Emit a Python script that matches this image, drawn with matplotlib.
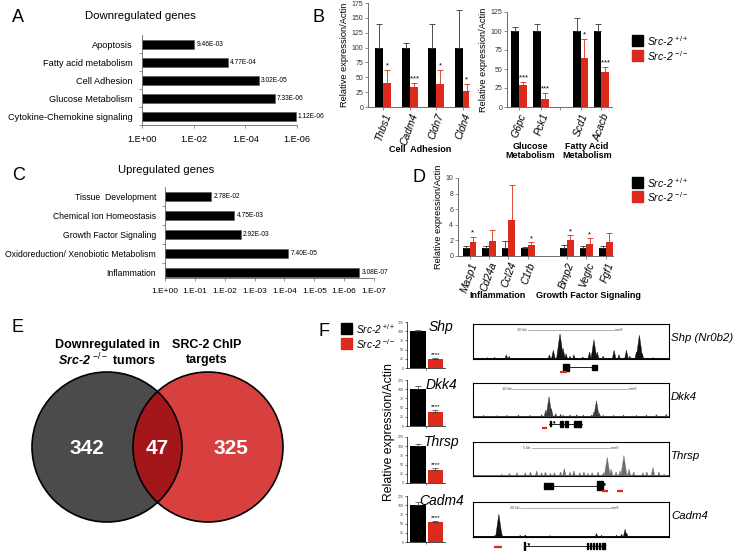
import numpy as np
import matplotlib
matplotlib.use("Agg")
import matplotlib.pyplot as plt
from matplotlib.patches import Rectangle, Circle

plt.rcParams['font.family'] = ['Liberation Sans', 'DejaVu Sans']
plt.rcParams['mathtext.fontset'] = 'custom'
plt.rcParams['mathtext.rm'] = 'Liberation Sans'
plt.rcParams['mathtext.it'] = 'Liberation Sans:italic'
plt.rcParams['mathtext.bf'] = 'Liberation Sans:bold'
plt.rcParams['mathtext.bfit'] = 'Liberation Sans:italic:bold'

W, H = 734, 551
BLACK = '#000000'
RED = '#dc2a1c'

# ---- data ----
# A: downregulated gene ontology
down_terms = ['Cytokine-Chemokine signaling', 'Glucose Metabolism', 'Cell Adhesion',
              'Fatty acid metabolism', 'Apoptosis']
down_pvals = [1.12e-06, 7.33e-06, 3.02e-05, 4.77e-04, 9.46e-03]
down_plabels = ['1.12E-06', '7.33E-06', '3.02E-05', '4.77E-04', '9.46E-03']

# C: upregulated gene ontology
up_terms = ['Inflammation', 'Oxidoreduction/ Xenobiotic Metabolism', 'Growth Factor Signaling',
            'Chemical Ion Homeostasis', 'Tissue  Development']
up_pvals = [3.08e-07, 7.40e-05, 2.92e-03, 4.75e-03, 2.78e-02]
up_plabels = ['3.08E-07', '7.40E-05', '2.92E-03', '4.75E-03', '2.78E-02']

# B left: cell adhesion qPCR
adh_genes = ['Thbs1', 'Cadm4', 'Cldn7', 'Cldn4']
adh_wt = [100, 100, 100, 100]
adh_wt_err = [39, 8, 39, 63]
adh_ko = [41, 33, 38, 27]
adh_ko_err = [22, 7, 25, 12]
adh_sig = ['*', '****', '*', '*']

# B right: glucose / fatty acid metabolism qPCR
met_genes = ['G6pc', 'Pck1', 'Scd1', 'Acacb']
met_wt = [100, 100, 100, 100]
met_wt_err = [5, 9, 17, 9]
met_ko = [29, 11, 64, 46]
met_ko_err = [4, 7, 26, 7]
met_sig = ['****', '***', '*', '****']

# D: inflammation / growth factor qPCR
up_genes = ['Masp1', 'Cd24a', 'Ccl24', 'C1rb', 'Bmp2', 'Vegfc', 'Fgf1']
up_wt = [1, 1, 1, 1, 1, 1, 1]
up_wt_err = [0.25, 0.3, 0.9, 0.1, 0.35, 0.3, 0.3]
up_ko = [1.8, 1.9, 4.6, 1.4, 2.0, 1.6, 1.8]
up_ko_err = [0.6, 1.4, 4.5, 0.35, 0.65, 0.65, 1.1]
up_sig = ['*', '', '', '*', '*', '*', '']

# E: Venn counts
venn_counts = [342, 47, 325]

# F: ChIP target qPCR
chip_genes = ['Shp', 'Dkk4', 'Thrsp', 'Cadm4']
chip_wt = [100, 100, 100, 100]
chip_wt_err = [2, 10, 5, 9]
chip_ko = [25, 38, 36, 53]
chip_ko_err = [2, 6, 6, 4]

# F: ChIP-seq tracks (peak position 0-100 along window, peak height 0-1)
track_names = ['Shp (Nr0b2)', 'Dkk4', 'Thrsp', 'Cadm4']
track_scale = ['10 kb', '10 kb', '5 kb', '20 kb']
shp_pos = [7.5, 11, 17, 18.5, 39, 41, 44.4, 46, 47.5, 49.5, 51.5, 56, 59.5, 61.7, 63.4,
           66.4, 72, 74.5, 78.3, 80, 83.4, 84.9, 86.4, 91.9, 97]
shp_h = [0.04, 0.05, 0.12, 0.08, 0.12, 0.25, 0.72, 0.3, 0.15, 0.08, 0.12, 0.06, 0.2, 0.55,
         0.2, 0.08, 0.25, 0.12, 0.25, 0.08, 0.2, 0.68, 0.15, 0.04, 0.03]
dkk_pos = [5.4, 12.2, 17.3, 23.2, 29.1, 35, 37.1, 38.8, 40, 42.2, 44.7, 46, 49.5, 52.9,
           56.3, 60.5, 61.7, 63, 64.4, 66.4, 71.7, 76.8, 83.4, 88.5, 93.6, 98.6]
dkk_h = [0.05, 0.04, 0.05, 0.06, 0.05, 0.07, 0.2, 0.6, 0.25, 0.1, 0.08, 0.05, 0.06, 0.07,
         0.06, 0.06, 0.15, 0.48, 0.12, 0.05, 0.05, 0.06, 0.05, 0.06, 0.07, 0.08]
thr_pos = [8.8, 14.6, 18.6, 22.5, 26.7, 29.3, 32.5, 35, 37, 39.5, 41.5, 44.7, 46.6, 49.5,
           51.5, 54.5, 56.6, 58.6, 60.8, 63.8, 66.6, 68.5, 70.5, 73, 75, 77, 79.6, 82,
           86.7, 88.7, 91.8, 94.9, 97.5]
thr_h = [0.03, 0.06, 0.08, 0.1, 0.1, 0.12, 0.15, 0.1, 0.12, 0.08, 0.1, 0.12, 0.22, 0.12,
         0.15, 0.1, 0.12, 0.08, 0.1, 0.12, 0.1, 0.55, 0.2, 0.12, 0.15, 0.6, 0.2, 0.12,
         0.1, 0.12, 0.25, 0.12, 0.06]
cad_pos = [11.3, 12.5, 13.2, 14.5, 24.1, 26.6, 39.3, 49.5, 63, 65.6, 73.2, 75.8, 77.6,
           78.4, 83.4, 90.2, 95]
cad_h = [0.05, 0.15, 0.65, 0.12, 0.05, 0.06, 0.04, 0.03, 0.1, 0.05, 0.05, 0.08, 0.22,
         0.12, 0.03, 0.03, 0.03]
track_pos = [shp_pos, dkk_pos, thr_pos, cad_pos]
track_h = [shp_h, dkk_h, thr_h, cad_h]
track_col = ['#111111', '#3a3a3a', '#6e6e6e', '#111111']

# gene models (window coords 0-100): exons, intron line, primer (red) bars
gene_exons = [[(45.9, 49.0, 1.0), (60.7, 63.3, 0.7)],
              [(39.3, 40.0, 0.7), (44.4, 45.9, 0.8), (46.9, 48.5, 0.8), (51.5, 55.1, 0.8)],
              [(36.2, 40.8, 0.8), (63.3, 66.3, 1.3)],
              [(26.0, 26.6, 1.2), (58.2, 58.8, 0.9), (59.7, 60.3, 0.9), (61.2, 61.8, 0.9),
               (62.7, 63.3, 0.9), (64.2, 65.0, 0.9), (66.0, 67.3, 0.8)]]
gene_span = [(49.0, 62.0), (38.8, 55.6), (40.8, 63.3), (26.0, 67.3)]
gene_tss = [46.5, 39.3, 65.0, 26.3]
primer_bars = [[(44.4, 48.0)], [(35.2, 37.8)], [(65.8, 68.9), (73.5, 76.5)], [(10.7, 14.8)]]


def px_axes(x0, y0, x1, y1):
    return fig.add_axes([x0 / W, 1 - y1 / H, (x1 - x0) / W, (y1 - y0) / H])


def ftext(x, y, s, **kw):
    fig.text(x / W, 1 - y / H, s, **kw)


def legend(x, y, dy, size=7.5):
    for i, (c, sup) in enumerate([(BLACK, '+/+'), (RED, '-/-')]):
        fig.patches.append(Rectangle((x / W, 1 - (y + i * dy + 11) / H), 11 / W, 11 / H,
                                     transform=fig.transFigure, color=c))
        ftext(x + 15, y + i * dy + 6, 'Src-2 $^{%s}$' % sup, fontsize=size, style='italic',
              va='center')


def go_panel(ax, terms, pvals, plabels, nmax, tick_fs, lab_fs):
    vals = -np.log10(pvals)
    y = np.arange(len(terms))
    ax.barh(y, vals, height=0.5, color=BLACK, edgecolor='#555555', linewidth=0.4)
    for yi, v, lab in zip(y, vals, plabels):
        ax.text(v + 0.08, yi, lab, fontsize=4.8, va='center')
    ax.set_yticks(y)
    ax.set_yticklabels(terms, fontsize=lab_fs)
    ax.set_yticks(np.arange(len(terms)) - 0.5, minor=True)
    ax.set_xlim(0, nmax)
    step = 2 if nmax == 6 else 1
    ks = list(range(0, nmax + 1, step))
    ax.set_xticks(ks)
    ax.set_xticklabels(['1.E+00' if k == 0 else '1.E-%02d' % k for k in ks], fontsize=tick_fs)
    for s in ['top', 'right']:
        ax.spines[s].set_visible(False)
    for s in ['left', 'bottom']:
        ax.spines[s].set_linewidth(0.6)
        ax.spines[s].set_color('#666666')
    ax.tick_params(axis='y', which='major', length=0, pad=6.5)
    ax.tick_params(axis='y', which='minor', length=2, width=0.5, color='#666666')
    ax.tick_params(axis='x', length=2.5, width=0.5, color='#666666', pad=5)


def qpcr(ax, pos, wt, wte, ko, koe, sig, genes, ymax, ystep, width, extra_ticks=()):
    pos = np.asarray(pos, dtype=float)
    ax.bar(pos - width / 2, wt, width, color=BLACK)
    ax.bar(pos + width / 2, ko, width, color=RED)
    ax.errorbar(pos - width / 2, wt, yerr=[np.zeros(len(wt)), wte], fmt='none',
                ecolor='#333333', elinewidth=0.6, capsize=2, capthick=0.6)
    ax.errorbar(pos + width / 2, ko, yerr=[np.zeros(len(ko)), koe], fmt='none',
                ecolor=RED, elinewidth=0.6, capsize=2, capthick=0.6)
    for p, k, e, s in zip(pos, ko, koe, sig):
        if s:
            ax.text(p + width / 2, k + e + ymax * 0.005, s, ha='center', va='bottom',
                    fontsize=5.5)
    ax.set_ylim(0, ymax)
    ax.set_yticks(np.arange(0, ymax + 0.01, ystep))
    ax.tick_params(axis='y', labelsize=5, length=2, width=0.5, color='#666666',
                   labelcolor='#333333', pad=1.5)
    ax.set_xticks(list(pos) + list(extra_ticks))
    ax.set_xticklabels(genes + [''] * len(extra_ticks), rotation=70, ha='right',
                       va='top', rotation_mode='anchor', style='italic', fontsize=7.5)
    ax.tick_params(axis='x', length=2, width=0.5, color='#666666', pad=1.5)
    for s in ['top', 'right']:
        ax.spines[s].set_visible(False)
    for s in ['left', 'bottom']:
        ax.spines[s].set_linewidth(0.6)
        ax.spines[s].set_color('#555555')


fig = plt.figure(figsize=(W / 100, H / 100), dpi=100)

# ---------- A ----------
ftext(12, 18, 'A', fontsize=13, va='center')
ftext(140, 16, 'Downregulated genes', fontsize=8.2, ha='center', va='center')
axA = px_axes(142, 35, 297, 125)
go_panel(axA, down_terms, down_pvals, down_plabels, 6, 6.6, 6.6)
axA.set_ylim(-0.5, 4.5)

# ---------- C ----------
ftext(12, 175, 'C', fontsize=13, va='center')
ftext(166, 170, 'Upregulated genes', fontsize=8.2, ha='center', va='center')
axC = px_axes(165, 187, 374, 278)
go_panel(axC, up_terms, up_pvals, up_plabels, 7, 6, 6.2)
axC.set_ylim(-0.3, 4.5)

# ---------- B ----------
ftext(313, 17, 'B', fontsize=13, va='center')
axB1 = px_axes(368, 3, 469, 107)
qpcr(axB1, [0, 1, 2, 3], adh_wt, adh_wt_err, adh_ko, adh_ko_err, adh_sig, adh_genes,
     175, 25, 0.3)
axB1.set_xlim(-0.58, 3.23)
axB1.set_ylabel('Relative expression/Actin', fontsize=6.7, labelpad=2)
ftext(420, 149, 'Cell  Adhesion', fontsize=6.5, weight='bold', ha='center', va='center')

axB2 = px_axes(507, 12, 612, 107)
qpcr(axB2, [0, 1, 2.8, 3.75], met_wt, met_wt_err, met_ko, met_ko_err, met_sig, met_genes,
     125, 25, 0.35, extra_ticks=[1.86])
axB2.set_xlim(-0.55, 4.23)
axB2.set_ylabel('Relative expression/Actin', fontsize=6.7, labelpad=2)
ftext(530, 151, 'Glucose\nMetabolism', fontsize=6.5, weight='bold', ha='center',
      va='center', linespacing=1.0)
ftext(587, 151, 'Fatty Acid\nMetabolism', fontsize=6.5, weight='bold', ha='center',
      va='center', linespacing=1.0)
legend(632, 35, 15)

# ---------- D ----------
ftext(412, 178, 'D', fontsize=13, va='center')
axD = px_axes(458, 178, 613, 256)
qpcr(axD, [0, 1, 2, 3, 5, 6, 7], up_wt, up_wt_err, up_ko, up_ko_err, up_sig, up_genes,
     10, 2, 0.34)
axD.set_xlim(-0.59, 7.36)
axD.set_ylabel('Relative expression/Actin', fontsize=6.7, labelpad=2)
ftext(498, 295, 'Inflammation', fontsize=6.5, weight='bold', ha='center', va='center')
ftext(588, 295, 'Growth Factor Signaling', fontsize=6.5, weight='bold', ha='center',
      va='center')
legend(632, 177, 14)

# ---------- E ----------
ftext(12, 327, 'E', fontsize=13, va='center')
axE = px_axes(20, 366, 300, 528)
axE.set_xlim(20, 300)
axE.set_ylim(-528, -366)
axE.set_aspect('equal')
axE.axis('off')
left = Circle((107, -447), 75, facecolor='#4b4b4b', edgecolor='none')
right = Circle((208, -447), 75, facecolor='#d7403f', edgecolor='none')
axE.add_patch(left)
axE.add_patch(right)
over = Circle((208, -447), 75, facecolor='#a3161a', edgecolor='none')
axE.add_patch(over)
over.set_clip_path(left)
for cx in (107, 208):
    axE.add_patch(Circle((cx, -447), 75, facecolor='none', edgecolor='black', linewidth=1.2))
for cx, n in zip((87, 157, 231), venn_counts):
    axE.text(cx, -448, str(n), color='white', fontsize=15, weight='bold', ha='center',
             va='center')
ftext(107, 345, 'Downregulated in', fontsize=9, weight='bold', ha='center', va='center')
ftext(107, 360, r'$\mathbfit{Src}$-$\mathbfit{2}$ $^{-/-}$ tumors', fontsize=9,
      weight='bold', ha='center', va='center')
ftext(207, 345, 'SRC-2 ChIP', fontsize=9, weight='bold', ha='center', va='center')
ftext(207, 360, 'targets', fontsize=9, weight='bold', ha='center', va='center')

# ---------- F ----------
ftext(318, 331, 'F', fontsize=13, va='center')
legend(341, 323, 15, size=7.2)
ftext(389, 432, 'Relative expression/Actin', fontsize=8.8, rotation=90, ha='center',
      va='center')
bar_tops = [322, 380, 437, 496]
for i, g in enumerate(chip_genes):
    ax = px_axes(407, bar_tops[i], 445, bar_tops[i] + 46)
    ax.bar([0], [chip_wt[i]], 0.9, color=BLACK)
    ax.bar([1], [chip_ko[i]], 0.85, color=RED)
    ax.errorbar([0], [chip_wt[i]], yerr=[[0], [chip_wt_err[i]]], fmt='none', ecolor='#333333',
                elinewidth=0.5, capsize=2, capthick=0.5)
    ax.errorbar([1], [chip_ko[i]], yerr=[[0], [chip_ko_err[i]]], fmt='none', ecolor='#333333',
                elinewidth=0.5, capsize=2, capthick=0.5)
    ax.text(1, chip_ko[i] + chip_ko_err[i] + 2, '****', ha='center', va='bottom', fontsize=4.5)
    ax.set_xlim(-0.6, 1.55)
    ax.set_ylim(0, 125)
    ax.set_yticks([0, 25, 50, 75, 100, 125])
    ax.tick_params(axis='y', labelsize=2.6, length=1.5, width=0.4, pad=1, labelcolor='#444444')
    ax.set_xticks([0.5])
    ax.set_xticklabels([])
    ax.tick_params(axis='x', length=1.5, width=0.4)
    for s in ['top', 'right']:
        ax.spines[s].set_visible(False)
    for s in ['left', 'bottom']:
        ax.spines[s].set_linewidth(0.5)
    ax.text(1.35, 112, g, style='italic', fontsize=10, ha='center', va='center')

track_boxes = [(324, 359), (383, 417), (442, 476), (502, 537)]
scale_ends = [(28, 72), (20, 79), (30, 70), (24, 70)]
gene_y = [-0.23, -0.2, -0.29, -0.26]
primer_y = [-0.37, -0.31, -0.44, -0.29]
for i in range(4):
    t0, t1 = track_boxes[i]
    ax = px_axes(473, t0, 669, t1)
    ax.set_xlim(0, 100)
    ax.set_ylim(0, 1)
    ax.set_xticks([])
    ax.set_yticks([])
    for s in ax.spines.values():
        s.set_linewidth(0.8)
    ax.fill_between([0, 100], 0, 0.025, color=track_col[i], linewidth=0)
    for p, h in zip(track_pos[i], track_h[i]):
        w = 0.5 + 1.8 * h
        ax.fill([p - w, p, p + w], [0, h, 0], color=track_col[i], linewidth=0.3)
    a, b = scale_ends[i]
    ax.plot([a, b], [0.82, 0.82], color='#777777', linewidth=0.4)
    ax.text(a - 0.5, 0.82, track_scale[i], fontsize=2.8, ha='right', va='center',
            color='#444444')
    ax.text(b + 0.5, 0.82, 'mm9', fontsize=2.8, ha='left', va='center', color='#444444')
    ax.text(101, 0.6, track_names[i], style='italic', fontsize=8.2, ha='left', va='center',
            clip_on=False)
    # gene model
    gy = gene_y[i]
    s0, s1 = gene_span[i]
    ax.plot([s0, s1], [gy, gy], color='black', linewidth=0.6, clip_on=False)
    for e0, e1, hh in gene_exons[i]:
        ax.add_patch(Rectangle((e0, gy - 0.1 * hh), e1 - e0, 0.2 * hh, color='black',
                               clip_on=False))
    ax.annotate('', xy=(gene_tss[i] + 2.2, gy + 0.17), xytext=(gene_tss[i], gy + 0.08),
                arrowprops=dict(arrowstyle='-|>', lw=0.4, color='black',
                                connectionstyle='angle,angleA=0,angleB=90,rad=0',
                                mutation_scale=3), annotation_clip=False)
    for r0, r1 in primer_bars[i]:
        ax.plot([r0, r1], [primer_y[i], primer_y[i]], color=RED, linewidth=1.6,
                solid_capstyle='butt', clip_on=False)

fig.savefig('out.png', dpi=100)
